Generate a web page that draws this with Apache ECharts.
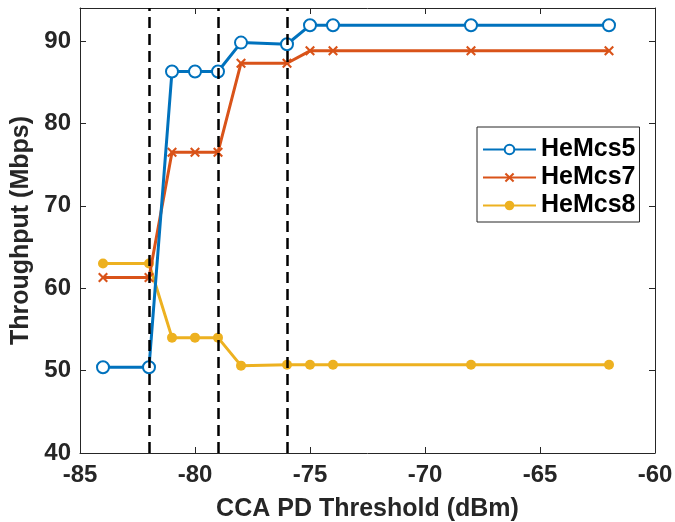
<!DOCTYPE html>
<html>
<head>
<meta charset="utf-8">
<script src="https://cdn.jsdelivr.net/npm/echarts@6/dist/echarts.min.js"></script>
<style>
  html, body { margin: 0; padding: 0; background: #fff; }
  #main { width: 675px; height: 522px; }
</style>
</head>
<body>
<div id="main"></div>
<script>
// CCA PD threshold (dBm)
var thresholds = [-84, -82, -81, -80, -79, -78, -76, -75, -74, -68, -62];
var heMcs5 = [50.4, 50.4, 86.3, 86.3, 86.3, 89.8, 89.6, 91.9, 91.9, 91.9, 91.9];
var heMcs7 = [61.3, 61.3, 76.5, 76.5, 76.5, 87.3, 87.3, 88.8, 88.8, 88.8, 88.8];
var heMcs8 = [63.0, 63.0, 54.0, 54.0, 54.0, 50.6, 50.7, 50.7, 50.7, 50.7, 50.7];
var dashedAt = [-82, -79, -76];

var font = 'Helvetica, Arial, "Liberation Sans", sans-serif';
var ink = '#262626';

function pairs(vals) {
    return thresholds.map(function (x, i) { return [x, vals[i]]; });
}

var crossPath = 'path://M1.5,0 L5,3.5 L8.5,0 L10,1.5 L6.5,5 L10,8.5 L8.5,10 L5,6.5 L1.5,10 L0,8.5 L3.5,5 L0,1.5 Z';

var myChart = echarts.init(document.getElementById('main'));

var boxAxis = {
    axisLine: { show: true, lineStyle: { color: ink, width: 1 } },
    axisTick: { show: true, inside: true, length: 6, lineStyle: { color: ink } },
    splitLine: { show: false }
};

myChart.setOption({
    animation: false,
    grid: { left: 80, top: 8, right: 20, bottom: 69, outerBoundsMode: 'none', containLabel: false },
    legend: {
        orient: 'vertical',
        left: 477,
        top: 127,
        backgroundColor: '#fff',
        borderColor: ink,
        borderWidth: 1,
        padding: [10, 4, 4, 5],
        itemGap: 3,
        itemWidth: 53,
        itemHeight: 12,
        textStyle: { fontFamily: font, fontSize: 25, lineHeight: 25, fontWeight: 'bold', color: '#000' },
        data: ['HeMcs5', 'HeMcs7', 'HeMcs8']
    },
    xAxis: [
        Object.assign({
            type: 'value', min: -85, max: -60, interval: 5,
            name: 'CCA PD Threshold (dBm)', nameLocation: 'middle', nameGap: 44,
            nameTextStyle: { fontFamily: font, fontSize: 25, fontWeight: 'bold', color: ink },
            axisLabel: { fontFamily: font, fontSize: 24, fontWeight: 'bold', color: ink, margin: 10 }
        }, boxAxis),
        Object.assign({
            type: 'value', min: -85, max: -60, interval: 5, position: 'top',
            axisLabel: { show: false }
        }, boxAxis)
    ],
    yAxis: [
        Object.assign({
            type: 'value', min: 40, max: 94, interval: 10,
            name: 'Throughput (Mbps)', nameLocation: 'middle', nameGap: 37,
            nameTextStyle: { fontFamily: font, fontSize: 25, fontWeight: 'bold', color: ink },
            axisLabel: { fontFamily: font, fontSize: 24, fontWeight: 'bold', color: ink, margin: 9, showMaxLabel: false }
        }, boxAxis),
        Object.assign({
            type: 'value', min: 40, max: 94, interval: 10, position: 'right',
            axisLabel: { show: false }
        }, boxAxis)
    ],
    series: [
        {
            name: 'HeMcs5', type: 'line', data: pairs(heMcs5),
            symbol: 'emptyCircle', symbolSize: 12,
            lineStyle: { color: '#0072BD', width: 3 },
            itemStyle: { color: '#0072BD', borderWidth: 3 },
            z: 3,
            markLine: {
                silent: true, symbol: 'none', label: { show: false },
                lineStyle: { color: '#000', type: [11, 6], width: 2.5 },
                data: dashedAt.map(function (x) { return { xAxis: x }; })
            }
        },
        {
            name: 'HeMcs7', type: 'line', data: pairs(heMcs7),
            symbol: crossPath, symbolSize: 10,
            lineStyle: { color: '#D95319', width: 3 },
            itemStyle: { color: '#D95319' },
            z: 2
        },
        {
            name: 'HeMcs8', type: 'line', data: pairs(heMcs8),
            symbol: 'circle', symbolSize: 10,
            lineStyle: { color: '#EDB120', width: 3 },
            itemStyle: { color: '#EDB120' },
            z: 1
        }
    ]
});
</script>
</body>
</html>
